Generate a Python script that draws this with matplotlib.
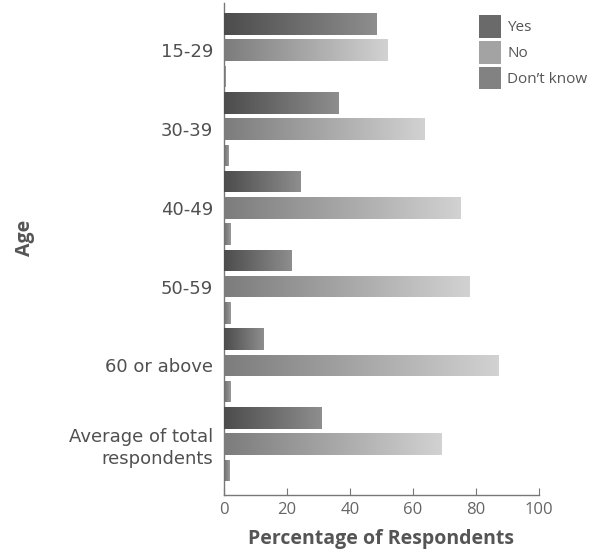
import numpy as np
import matplotlib.pyplot as plt
from matplotlib.colors import LinearSegmentedColormap
from matplotlib.patches import Patch

ages = ["15-29", "30-39", "40-49", "50-59", "60 or above", "Average of total\nrespondents"]
yes = [48.3, 36.5, 24.3, 21.5, 12.5, 30.8]
no = [52.0, 63.5, 75.0, 78.0, 87.3, 69.2]
dont_know = [0.6, 1.3, 2.2, 2.0, 2.0, 1.7]

series = [("Yes", yes, "#4c4c4c", "#8e8e8e"),
          ("No", no, "#7c7c7c", "#d2d2d2"),
          ("Don\u2019t know", dont_know, "#6e6e6e", "#9a9a9a")]

fig = plt.figure(figsize=(5.98, 5.51), dpi=100)
ax = fig.add_axes([224/598, 56/551, 315/598, 492/551])

grad = np.linspace(0, 1, 256).reshape(1, -1)
handles = []
for k, (name, vals, c0, c1) in enumerate(series):
    pos = np.arange(len(ages)) * 3 + k
    bars = ax.barh(pos, vals, height=0.82, color=c1, edgecolor="none", zorder=2)
    cmap = LinearSegmentedColormap.from_list(name, [c0, c1])
    for b in bars:
        x0, y0 = b.get_x(), b.get_y()
        im = ax.imshow(grad, cmap=cmap, aspect="auto", zorder=3,
                       extent=[x0, x0 + b.get_width(), y0 + b.get_height(), y0])
        im.set_clip_path(b)
    handles.append(Patch(facecolor=cmap(0.45), edgecolor="none", label=name))

ax.set_xlim(0, 100)
ax.set_ylim(17.94, -0.8)

ax.set_yticks(np.arange(len(ages)) * 3 + 1)
ax.set_yticklabels(ages, fontsize=13, color="#505050", family="DejaVu Sans",
                   linespacing=1.25)
ax.tick_params(axis="y", length=0, pad=8)
ax.set_xticks([0, 20, 40, 60, 80, 100])
ax.tick_params(axis="x", direction="in", length=5, color="#777777",
               labelsize=12, labelcolor="#666666", pad=5)
for t in ax.get_xticklabels():
    t.set_family("Open Sans")

for s in ["top", "right"]:
    ax.spines[s].set_visible(False)
for s in ["left", "bottom"]:
    ax.spines[s].set_color("#777777")
    ax.spines[s].set_linewidth(1)

ax.set_xlabel("Percentage of Respondents", fontsize=14, fontweight="bold",
              color="#555555", family="Open Sans", labelpad=8)
fig.text(0.042, 0.568, "Age", rotation=90, fontsize=14, fontweight="bold",
         color="#555555", family="Open Sans", ha="center", va="center")

ax.legend(handles=handles, loc="upper left", bbox_to_anchor=(0.77, 1.0),
          frameon=False, handlelength=1.45, handleheight=1.9,
          handletextpad=0.4, labelspacing=0.2, borderaxespad=0.4,
          prop={"family": "Open Sans", "size": 11}, labelcolor="#555555")

fig.savefig("out.png", dpi=100)
